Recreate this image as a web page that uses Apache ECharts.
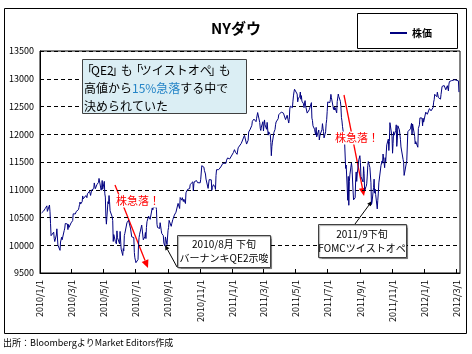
<!DOCTYPE html>
<html lang="ja">
<head>
<meta charset="UTF-8">
<title>NYダウ</title>
<script src="https://cdn.jsdelivr.net/npm/echarts@6/dist/echarts.min.js"></script>
<style>
  body { margin: 0; background: #fff; }
  #chart { width: 472px; height: 354px; }
</style>
</head>
<body>
<div id="chart"></div>
<script>
// NYダウ 終値（日次）
var dow2010 = [
  ['01-04',10583],['01-05',10572],['01-06',10574],['01-07',10607],['01-08',10618],['01-11',10663],['01-12',10627],['01-13',10680],['01-14',10710],['01-15',10610],['01-19',10725],['01-20',10603],['01-21',10389],['01-22',10172],['01-25',10196],['01-26',10194],['01-27',10236],['01-28',10120],['01-29',10067],
  ['02-01',10185],['02-02',10296],['02-03',10270],['02-04',10002],['02-05',10012],['02-08',9908],['02-09',10058],['02-10',10038],['02-11',10144],['02-12',10099],['02-16',10268],['02-17',10309],['02-18',10392],['02-19',10402],['02-22',10383],['02-23',10282],['02-24',10374],['02-25',10321],['02-26',10325],
  ['03-01',10403],['03-02',10405],['03-03',10396],['03-04',10444],['03-05',10566],['03-08',10552],['03-09',10564],['03-10',10567],['03-11',10611],['03-12',10624],['03-15',10642],['03-16',10685],['03-17',10733],['03-18',10779],['03-19',10741],['03-22',10785],['03-23',10888],['03-24',10836],['03-25',10841],['03-26',10850],['03-29',10895],['03-30',10907],['03-31',10857],
  ['04-01',10927],['04-05',10973],['04-06',10969],['04-07',10897],['04-08',10927],['04-09',10997],['04-12',11005],['04-13',11019],['04-14',11123],['04-15',11144],['04-16',11019],['04-19',11092],['04-20',11117],['04-21',11124],['04-22',11134],['04-23',11204],['04-26',11205],['04-27',10991],['04-28',11045],['04-29',11167],['04-30',11008],
  ['05-03',11151],['05-04',10926],['05-05',10868],['05-06',10520],['05-07',10380],['05-10',10785],['05-11',10748],['05-12',10896],['05-13',10782],['05-14',10620],['05-17',10625],['05-18',10510],['05-19',10444],['05-20',10068],['05-21',10193],['05-24',10067],['05-25',10043],['05-26',10025],['05-27',10259],['05-28',10137],
  ['06-01',10025],['06-02',10249],['06-03',10255],['06-04',9931],['06-07',9816],['06-08',9940],['06-09',9899],['06-10',10173],['06-11',10212],['06-14',10191],['06-15',10405],['06-16',10410],['06-17',10435],['06-18',10450],['06-21',10442],['06-22',10294],['06-23',10298],['06-24',10152],['06-25',10144],['06-28',10138],['06-29',9870],['06-30',9774],
  ['07-01',9732],['07-02',9686],['07-06',9743],['07-07',10018],['07-08',10139],['07-09',10198],['07-12',10216],['07-13',10363],['07-14',10366],['07-15',10359],['07-16',10098],['07-19',10154],['07-20',10230],['07-21',10120],['07-22',10322],['07-23',10424],['07-26',10525],['07-27',10537],['07-28',10497],['07-29',10467],['07-30',10466],
  ['08-02',10674],['08-03',10636],['08-04',10680],['08-05',10675],['08-06',10653],['08-09',10698],['08-10',10644],['08-11',10379],['08-12',10320],['08-13',10303],['08-16',10302],['08-17',10406],['08-18',10416],['08-19',10271],['08-20',10213],['08-23',10174],['08-24',10041],['08-25',10060],['08-26',9985],['08-27',10150],['08-30',10010],['08-31',10015],
  ['09-01',10270],['09-02',10321],['09-03',10448],['09-07',10341],['09-08',10387],['09-09',10415],['09-10',10462],['09-13',10544],['09-14',10527],['09-15',10573],['09-16',10595],['09-17',10608],['09-20',10754],['09-21',10761],['09-22',10739],['09-23',10662],['09-24',10860],['09-27',10812],['09-28',10858],['09-29',10835],['09-30',10788],
  ['10-01',10830],['10-04',10752],['10-05',10945],['10-06',10968],['10-07',10948],['10-08',11006],['10-11',11010],['10-12',11021],['10-13',11096],['10-14',11095],['10-15',11063],['10-18',11143],['10-19',10979],['10-20',11108],['10-21',11146],['10-22',11133],['10-25',11165],['10-26',11170],['10-27',11127],['10-28',11126],['10-29',11118],
  ['11-01',11125],['11-02',11189],['11-03',11216],['11-04',11434],['11-05',11445],['11-08',11407],['11-09',11347],['11-10',11358],['11-11',11284],['11-12',11193],['11-15',11201],['11-16',11024],['11-17',11008],['11-18',11182],['11-19',11204],['11-22',11179],['11-23',10988],['11-24',11037],['11-26',11092],['11-29',11052],['11-30',11006],
  ['12-01',11256],['12-02',11362],['12-03',11382],['12-06',11362],['12-07',11360],['12-08',11372],['12-09',11370],['12-10',11410],['12-13',11428],['12-14',11476],['12-15',11457],['12-16',11499],['12-17',11491],['12-20',11478],['12-21',11533],['12-22',11559],['12-23',11573],['12-27',11555],['12-28',11575],['12-29',11585],['12-30',11570],['12-31',11578]
];
var dow2011 = [
  ['01-03',11671],['01-04',11691],['01-05',11722],['01-06',11697],['01-07',11675],['01-10',11638],['01-11',11671],['01-12',11755],['01-13',11732],['01-14',11787],['01-18',11837],['01-19',11825],['01-20',11823],['01-21',11871],['01-24',11980],['01-25',11977],['01-26',11985],['01-27',11990],['01-28',11823],['01-31',11892],
  ['02-01',12040],['02-02',12041],['02-03',12062],['02-04',12092],['02-07',12161],['02-08',12234],['02-09',12240],['02-10',12229],['02-11',12273],['02-14',12268],['02-15',12226],['02-16',12288],['02-17',12318],['02-18',12391],['02-22',12213],['02-23',12105],['02-24',12068],['02-25',12130],['02-28',12226],
  ['03-01',12058],['03-02',12066],['03-03',12258],['03-04',12170],['03-07',12090],['03-08',12214],['03-09',12213],['03-10',11984],['03-11',12044],['03-14',11993],['03-15',11855],['03-16',11613],['03-17',11775],['03-18',11858],['03-21',12037],['03-22',12019],['03-23',12087],['03-24',12171],['03-25',12221],['03-28',12198],['03-29',12280],['03-30',12351],['03-31',12320],
  ['04-01',12377],['04-04',12400],['04-05',12394],['04-06',12427],['04-07',12410],['04-08',12380],['04-11',12382],['04-12',12264],['04-13',12271],['04-14',12286],['04-15',12342],['04-18',12202],['04-19',12267],['04-20',12454],['04-21',12506],['04-25',12480],['04-26',12596],['04-27',12691],['04-28',12764],['04-29',12811],
  ['05-02',12808],['05-03',12807],['05-04',12724],['05-05',12584],['05-06',12638],['05-09',12685],['05-10',12761],['05-11',12631],['05-12',12696],['05-13',12596],['05-16',12549],['05-17',12480],['05-18',12561],['05-19',12606],['05-20',12512],['05-23',12381],['05-24',12356],['05-25',12395],['05-26',12403],['05-27',12442],['05-31',12570],
  ['06-01',12290],['06-02',12249],['06-03',12152],['06-06',12090],['06-07',12071],['06-08',11991],['06-09',12124],['06-10',11952],['06-13',11953],['06-14',12077],['06-15',11897],['06-16',11962],['06-17',12004],['06-20',12081],['06-21',12191],['06-22',12110],['06-23',12050],['06-24',11934],['06-27',12043],['06-28',12188],['06-29',12262],['06-30',12414],
  ['07-01',12582],['07-05',12570],['07-06',12626],['07-07',12719],['07-08',12658],['07-11',12506],['07-12',12447],['07-13',12492],['07-14',12437],['07-15',12480],['07-18',12386],['07-19',12588],['07-20',12572],['07-21',12724],['07-22',12681],['07-25',12593],['07-26',12502],['07-27',12303],['07-28',12240],['07-29',12143],
  ['08-01',12133],['08-02',11867],['08-03',11897],['08-04',11384],['08-05',11445],['08-08',10810],['08-09',11240],['08-10',10720],['08-11',11144],['08-12',11269],['08-15',11483],['08-16',11406],['08-17',11411],['08-18',10991],['08-19',10818],['08-22',10855],['08-23',11177],['08-24',11321],['08-25',11150],['08-26',11285],['08-29',11540],['08-30',11560],['08-31',11614],
  ['09-01',11494],['09-02',11240],['09-06',11140],['09-07',11415],['09-08',11296],['09-09',10992],['09-12',11062],['09-13',11106],['09-14',11247],['09-15',11434],['09-16',11509],['09-19',11401],['09-20',11408],['09-21',11125],['09-22',10734],['09-23',10771],['09-26',11044],['09-27',11191],['09-28',10939],['09-29',11011],['09-30',10913],
  ['10-03',10655],['10-04',10809],['10-05',10940],['10-06',11124],['10-07',11103],['10-10',11433],['10-11',11417],['10-12',11519],['10-13',11479],['10-14',11644],['10-17',11397],['10-18',11578],['10-19',11505],['10-20',11541],['10-21',11809],['10-24',11913],['10-25',11707],['10-26',11869],['10-27',12209],['10-28',12232],['10-31',11955],
  ['11-01',11658],['11-02',11836],['11-03',12045],['11-04',11983],['11-07',12069],['11-08',12170],['11-09',11781],['11-10',11894],['11-11',12153],['11-14',12079],['11-15',12096],['11-16',11906],['11-17',11771],['11-18',11796],['11-21',11548],['11-22',11494],['11-23',11258],['11-25',11231],['11-28',11523],['11-29',11556],['11-30',12046],
  ['12-01',12020],['12-02',12019],['12-05',12098],['12-06',12151],['12-07',12196],['12-08',11998],['12-09',12185],['12-12',12022],['12-13',11955],['12-14',11824],['12-15',11869],['12-16',11867],['12-19',11766],['12-20',12103],['12-21',12108],['12-22',12170],['12-23',12295],['12-27',12291],['12-28',12152],['12-29',12288],['12-30',12218]
];
var dow2012 = [
  ['01-03',12398],['01-04',12418],['01-05',12415],['01-06',12360],['01-09',12393],['01-10',12463],['01-11',12450],['01-12',12471],['01-13',12422],['01-17',12482],['01-18',12579],['01-19',12623],['01-20',12720],['01-23',12709],['01-24',12676],['01-25',12758],['01-26',12734],['01-27',12660],['01-30',12654],['01-31',12633],
  ['02-01',12716],['02-02',12705],['02-03',12862],['02-06',12845],['02-07',12878],['02-08',12884],['02-09',12891],['02-10',12801],['02-13',12875],['02-14',12878],['02-15',12781],['02-16',12904],['02-17',12950],['02-21',12966],['02-22',12938],['02-23',12985],['02-24',12983],['02-27',12982],['02-28',13005],['02-29',12952],
  ['03-01',12980],['03-02',12978],['03-05',12962],['03-06',12759]
];

// 目盛ラベル
var tickLabels = ['2010/1/1','2010/3/1','2010/5/1','2010/7/1','2010/9/1','2010/11/1','2011/1/1','2011/3/1','2011/5/1','2011/7/1','2011/9/1','2011/11/1','2012/1/1','2012/3/1'];
var yMin = 9500, yMax = 13500, yStep = 500;

// 2010/1/1 からの日数
var DAY = 86400000;
function toDay(s) {
  var p = s.split(/[\/-]/);
  return Math.round((Date.UTC(+p[0], +p[1] - 1, +p[2]) - Date.UTC(2010, 0, 1)) / DAY);
}

var seriesData = [];
[[2010, dow2010], [2011, dow2011], [2012, dow2012]].forEach(function (y) {
  y[1].forEach(function (d) {
    seriesData.push([toDay(y[0] + '-' + d[0]), d[1]]);
  });
});
var tickDays = tickLabels.map(toDay);

// 矢印（線＋三角形）
function arrow(x1, y1, x2, y2, color, w, head) {
  var a = Math.atan2(y2 - y1, x2 - x1);
  var hl = head, hw = head * 0.45;
  var bx = x2 - hl * Math.cos(a), by = y2 - hl * Math.sin(a);
  return {
    type: 'group',
    z: 12,
    children: [
      { type: 'line', shape: { x1: x1, y1: y1, x2: bx, y2: by }, style: { stroke: color, lineWidth: w } },
      { type: 'polygon', shape: { points: [
        [x2, y2],
        [bx + hw * Math.sin(a), by - hw * Math.cos(a)],
        [bx - hw * Math.sin(a), by + hw * Math.cos(a)]
      ] }, style: { fill: color } }
    ]
  };
}

var font = '"Noto Sans CJK JP", sans-serif';
var chart = echarts.init(document.getElementById('chart'));

var option = {
  animation: false,
  title: {
    text: 'NYダウ',
    left: 'center',
    top: 16,
    textStyle: { fontSize: 15, fontWeight: 'bold', color: '#000', fontFamily: font }
  },
  legend: {
    left: 385,
    top: 23,
    itemWidth: 17,
    itemHeight: 2,
    itemGap: 4,
    data: [{ name: '株価', icon: 'rect' }],
    textStyle: { fontSize: 10, fontWeight: 'bold', color: '#000', fontFamily: font }
  },
  grid: {
    left: 40, right: 12, top: 51, bottom: 81,
    show: true, borderColor: '#000', borderWidth: 1,
    outerBoundsMode: 'none'
  },
  xAxis: {
    type: 'value',
    min: 0,
    max: toDay('2012/3/8'),
    axisLine: { lineStyle: { color: '#000', width: 1 } },
    axisTick: { show: true, inside: true, length: 4, customValues: tickDays, lineStyle: { color: '#000' } },
    axisLabel: {
      customValues: tickDays,
      rotate: 90,
      margin: 7,
      fontSize: 9,
      color: '#000',
      fontFamily: font,
      formatter: function (v) {
        var i = tickDays.indexOf(v);
        return i >= 0 ? tickLabels[i] : '';
      }
    },
    splitLine: { show: false }
  },
  yAxis: {
    type: 'value',
    min: yMin, max: yMax, interval: yStep,
    axisLine: { show: true, lineStyle: { color: '#000' } },
    axisTick: { show: false },
    axisLabel: { fontSize: 9, color: '#000', margin: 6, fontFamily: font, formatter: function (v) { return String(v); } },
    splitLine: { lineStyle: { color: '#000', type: [4, 3], width: 1 } }
  },
  series: [{
    name: '株価',
    type: 'line',
    data: seriesData,
    showSymbol: false,
    lineStyle: { color: '#000080', width: 1 },
    itemStyle: { color: '#000080' }
  }],
  graphic: [
    // 外枠
    { type: 'rect', shape: { x: 4.5, y: 8.5, width: 462, height: 325 }, style: { fill: 'none', stroke: '#000', lineWidth: 1 }, silent: true },
    // 凡例枠
    { type: 'rect', shape: { x: 357.5, y: 13.5, width: 100, height: 35 }, style: { fill: 'none', stroke: '#000', lineWidth: 1 }, silent: true },
    // コメント枠
    { type: 'rect', shape: { x: 82.5, y: 59.5, width: 164, height: 54 }, style: { fill: '#dbeef4', stroke: '#404040', lineWidth: 1 }, z: 10 },
    { type: 'text', x: 84, y: 61, z: 11, style: {
      text: '{o|「}QE2{c|」}も{o|「}ツイストオペ{c|」}も\n高値から{b|15%急落}する中で\n決められていた',
      font: '12px ' + font, fill: '#000', lineHeight: 18,
      rich: {
        b: { fill: '#2585c7', fontSize: 12, fontFamily: font },
        o: { fontSize: 12, fontFamily: font, width: 7, align: 'right' },
        c: { fontSize: 12, fontFamily: font, width: 7, align: 'left' }
      }
    } },
    // 株急落（左）
    arrow(115, 185, 148, 268, '#ff0000', 1.3, 8),
    { type: 'text', x: 138, y: 201, z: 13, style: { text: '株急落！', font: '11px ' + font, fill: '#ff0000', align: 'center', verticalAlign: 'middle', backgroundColor: '#fff', padding: [1, 1] } },
    // 株急落（右）
    arrow(344, 95, 364, 196, '#ff0000', 1.3, 8),
    { type: 'text', x: 357, y: 138, z: 13, style: { text: '株急落！', font: '11px ' + font, fill: '#ff0000', align: 'center', verticalAlign: 'middle', backgroundColor: '#fff', padding: [1, 1] } },
    // 吹き出し 1
    arrow(177, 267, 165, 245, '#000', 1, 5),
    { type: 'rect', shape: { x: 177.5, y: 235.5, width: 93, height: 32 }, style: { fill: '#fff', stroke: '#404040', lineWidth: 1, shadowColor: 'rgba(0,0,0,0.35)', shadowOffsetX: 1, shadowOffsetY: 1, shadowBlur: 1 }, z: 10 },
    { type: 'text', x: 224, y: 251, z: 11, style: { text: '2010/8月 下旬\nバーナンキQE2示唆', font: '10px ' + font, fill: '#000', align: 'center', verticalAlign: 'middle', lineHeight: 14 } },
    // 吹き出し 2
    arrow(355, 224, 372, 201, '#000', 1, 5),
    { type: 'rect', shape: { x: 318.5, y: 224.5, width: 88, height: 33 }, style: { fill: '#fff', stroke: '#404040', lineWidth: 1, shadowColor: 'rgba(0,0,0,0.35)', shadowOffsetX: 1, shadowOffsetY: 1, shadowBlur: 1 }, z: 10 },
    { type: 'text', x: 362, y: 241, z: 11, style: { text: '2011/9下旬\nFOMCツイストオペ', font: '10px ' + font, fill: '#000', align: 'center', verticalAlign: 'middle', lineHeight: 14 } },
    // 出所
    { type: 'text', x: 3, y: 343, style: { text: '出所：BloombergよりMarket Editors作成', font: '9px ' + font, fill: '#000', verticalAlign: 'middle' } }
  ]
};

chart.setOption(option);
</script>
</body>
</html>
